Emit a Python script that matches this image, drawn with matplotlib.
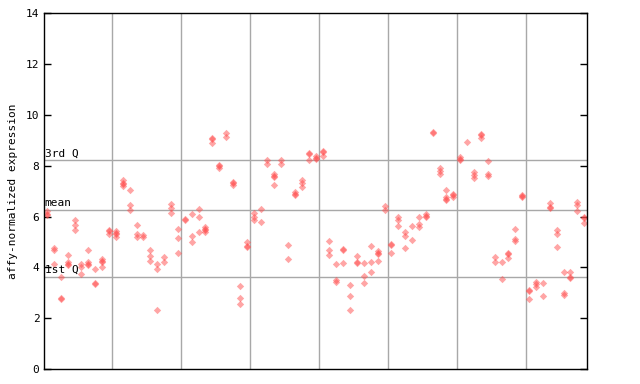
import matplotlib
matplotlib.use("Agg")
import matplotlib.pyplot as plt

# expression values per sample (column)
samples = [
    [6.2, 6.1, 6.05], [4.76, 4.7, 4.15], [3.62, 2.8, 2.75], [4.5, 4.2, 4.12, 4.08],
    [5.85, 5.68, 5.48], [4.12, 4.03, 3.75], [4.68, 4.2, 4.14, 4.1], [3.93, 3.39, 3.34],
    [4.33, 4.24, 4.2, 4.03], [5.48, 5.44, 5.32], [5.45, 5.34, 5.3, 5.2], [7.45, 7.32, 7.28, 7.2],
    [7.05, 6.45, 6.25], [5.66, 5.3, 5.2], [5.27, 5.2], [4.7, 4.45, 4.25],
    [4.12, 3.93, 2.33], [4.4, 4.2], [6.5, 6.33, 6.15], [5.5, 5.14, 4.56],
    [5.92, 5.88], [6.1, 5.23, 5.0], [6.3, 5.98, 5.39], [5.6, 5.5, 5.46, 5.38],
    [9.1, 9.05, 8.9], [8.04, 8.0, 7.9], [9.28, 9.13], [7.37, 7.33, 7.25],
    [3.26, 2.79, 2.56], [5.0, 4.84, 4.8], [6.13, 6.0, 5.88], [6.3, 5.78],
    [8.24, 8.07], [7.66, 7.58, 7.54, 7.24], [8.24, 8.07], [4.88, 4.33],
    [6.95, 6.88, 6.84], [7.45, 7.32, 7.16], [8.51, 8.47, 8.24], [8.4, 8.31, 8.27],
    [8.59, 8.55, 8.4], [5.03, 4.69, 4.48], [4.14, 3.51, 3.43], [4.71, 4.67, 4.19],
    [3.3, 2.87, 2.31], [4.46, 4.2, 4.16], [4.16, 3.65, 3.38], [4.84, 4.22, 3.81],
    [4.64, 4.58, 4.54, 4.25], [6.4, 6.27], [4.92, 4.88, 4.56], [6.0, 5.85, 5.63],
    [5.38, 5.22, 4.76], [5.63, 5.08], [6.0, 5.69, 5.6], [6.1, 6.02, 5.98],
    [9.31, 9.27], [7.91, 7.8, 7.68], [7.06, 6.75, 6.71, 6.66], [6.88, 6.84, 6.77],
    [8.33, 8.26, 8.22], [8.94], [7.77, 7.64, 7.5], [9.25, 9.21, 9.1],
    [8.2, 7.68, 7.58], [4.4, 4.23], [4.21, 3.54], [4.56, 4.52, 4.37],
    [5.51, 5.12, 5.02], [6.86, 6.79, 6.75], [3.11, 3.07, 2.75], [3.44, 3.33, 3.22],
    [3.38, 2.87], [6.53, 6.38, 6.34], [5.48, 5.31, 4.8], [3.81, 3.01, 2.92],
    [3.81, 3.62, 3.58], [6.56, 6.47, 6.2], [6.0, 5.96, 5.75],
]

q_labels = ["3rd Q", "mean", "1st Q"]
q_values = [8.21, 6.24, 3.63]
group_bounds = [9.5, 19.5, 29.5, 39.5, 49.5, 59.5, 69.5]

fig = plt.figure(figsize=(6.4, 3.84), dpi=100)
ax = fig.add_axes([0.0692, 0.0391, 0.8485, 0.9263])

for x in group_bounds:
    ax.axvline(x, color="#a8a8a8", lw=1.0, zorder=1)
for lab, v in zip(q_labels, q_values):
    ax.axhline(v, color="#a8a8a8", lw=1.0, zorder=1)
    ax.text(-0.35, v + 0.08, lab, fontsize=8, family="DejaVu Sans Mono",
            va="bottom", ha="left", zorder=3)

xs, ys = [], []
for i, vals in enumerate(samples):
    for v in vals:
        xs.append(i)
        ys.append(v)
ax.scatter(xs, ys, marker="D", s=14, color="#ff4d4d", alpha=0.5,
           linewidths=0, zorder=2)

ax.set_xlim(-0.4, 78.45)
ax.set_ylim(0, 14)
ax.set_xticks([])
ax.set_yticks(range(0, 15, 2))
ax.tick_params(axis="y", direction="in", length=5, labelsize=8,
               right=True, width=1)
for lbl in ax.get_yticklabels():
    lbl.set_family("DejaVu Sans Mono")
for s in ax.spines.values():
    s.set_linewidth(1.0)
ax.set_ylabel("affy-normalized expression", fontsize=8, family="DejaVu Sans Mono",
              labelpad=6)

fig.savefig("out.png", dpi=100)
